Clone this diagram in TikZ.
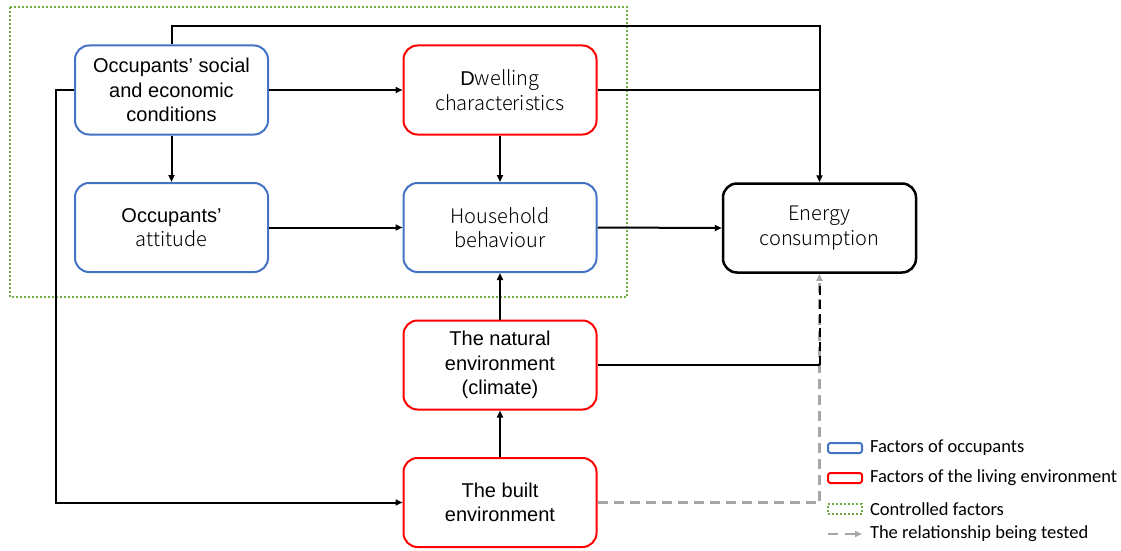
\documentclass[tikz,border=0pt]{standalone}
\usepackage{fontspec}
\setmainfont{Liberation Sans}
\newfontfamily\lightfont{Noto Sans CJK SC}[UprightFont=* Light]
\newfontfamily\legendfont{Carlito}
\usetikzlibrary{arrows.meta}
\definecolor{occblue}{RGB}{68,114,196}
\definecolor{envred}{RGB}{255,0,0}
\definecolor{ctrlgreen}{RGB}{112,173,71}
\definecolor{testgrey}{RGB}{166,166,166}
\tikzset{every picture/.style={line width=2pt}}

\begin{document}
\begin{tikzpicture}[x=1pt,y=1pt,yscale=-1,xscale=1,
  factorbox/.style={rounded corners=14pt,minimum width=193pt,minimum height=89pt,align=center,
    font=\fontsize{20}{24.5}\selectfont,inner sep=0pt},
  occbox/.style={factorbox,draw=occblue},
  envbox/.style={factorbox,draw=envred},
  outbox/.style={factorbox,draw=black,line width=2.5pt},
  arr/.style={-{Triangle[length=7pt,width=6pt]},line width=2pt},
  testarr/.style={-{Triangle[length=7pt,width=6pt]},draw=testgrey,dash pattern=on 10pt off 6pt,line width=2.2pt},
  legbox/.style={rounded corners=2.5pt,minimum width=34pt,minimum height=10pt,inner sep=0pt},
  legtext/.style={anchor=west,inner sep=0pt,font=\legendfont\fontsize{18.5}{20}\selectfont}]
\useasboundingbox (0,0) rectangle (1121,551);

%controlled factors
\draw [ctrlgreen,dash pattern=on 2pt off 2pt] (10,7) rectangle (627,297);

%boxes
\node [occbox] (social) at (171.5,90) {Occupants’ social\\and economic\\conditions};
\node [envbox] (dwelling) at (500,90) {D{\lightfont welling}\\{\lightfont characteristics}};
\node [occbox] (attitude) at (171.5,227.5) {Occupants’\\{\lightfont attitude}};
\node [occbox] (behaviour) at (500,227.5) {\lightfont Household\\\lightfont behaviour};
\node [outbox] (energy) at (819.5,228) {\lightfont Energy\\\lightfont consumption};
\node [envbox] (natural) at (500,365) {The natural\\environment\\(climate)};
\node [envbox] (built) at (500,502.5) {The built\\environment};

%connectors
\draw [arr] (social.east) -- (dwelling.west);
\draw [arr] (social.south) -- (attitude.north);
\draw [arr] (dwelling.south) -- (behaviour.north);
\draw [arr] (attitude.east) -- (behaviour.west);
\draw [arr] (behaviour.east) -- (energy.west);
\draw [arr] (natural.north) -- (behaviour.south);
\draw [arr] (built.north) -- (natural.south);
\draw [arr] (social.north) -- ++(0,-18) -| (energy.north);
\draw (dwelling.east) -- (dwelling.east -| energy.north);
\draw [arr] (social.west) -- ++(-18,0) |- (built.west);

%tested relationship
\draw [testarr] (built.east) -| (energy.south);
\draw (natural.east) -- (natural.east -| energy.south) coordinate (naturaljoin);
\draw [dash pattern=on 9pt off 5pt,shorten >=8pt] (naturaljoin) -- (energy.south);

%legend
\node [legbox,draw=occblue] (legocc) at (845,448) {};
\node [legtext] at (869,448) {Factors of occupants};
\node [legbox,draw=envred] (legenv) at (845,478) {};
\node [legtext] at (869,478) {Factors of the living environment};
\node [legbox,draw=ctrlgreen,dash pattern=on 2pt off 2pt,rounded corners=0pt] (legctrl) at (845,509) {};
\node [legtext] at (869,509) {Controlled factors};
\coordinate (legtest) at (828,534);
\draw [testarr,dash pattern=on 10pt off 7pt] (legtest) -- ++(34,0);
\node [legtext] at (869,534) {The relationship being tested};
\end{tikzpicture}
\end{document}
